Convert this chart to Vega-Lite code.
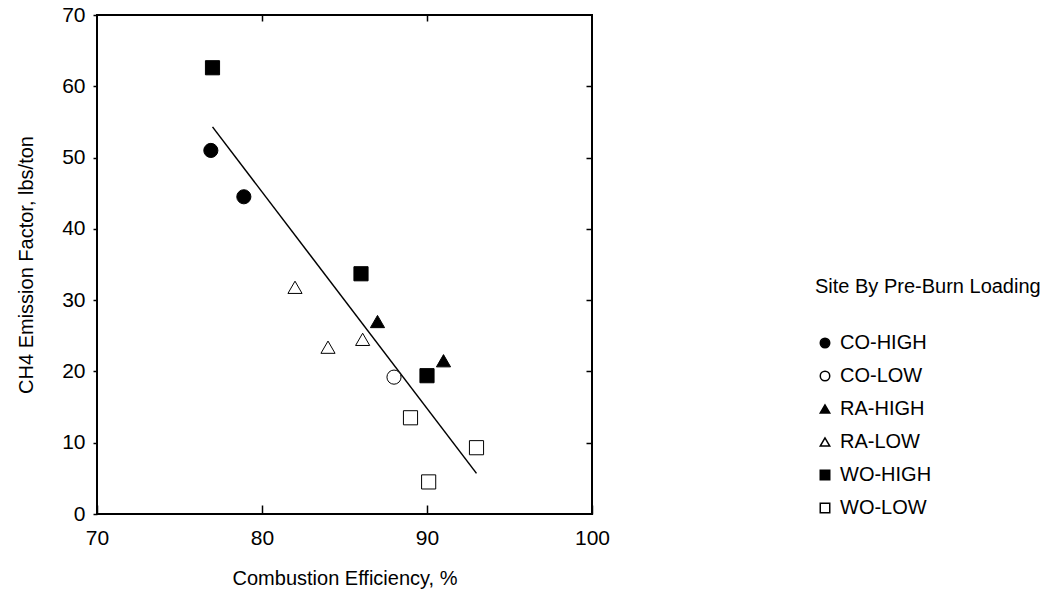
{
  "$schema": "https://vega.github.io/schema/vega-lite/v6.json",
  "autosize": {"type": "none"},
  "width": 495,
  "height": 499,
  "padding": {"left": 97, "top": 15, "right": 455, "bottom": 81},
  "background": "white",
  "config": {
    "font": "Liberation Sans",
    "view": {"stroke": "black", "strokeWidth": 2},
    "axis": {
      "grid": false,
      "domain": false,
      "labelFont": "Liberation Sans",
      "labelFontSize": 21,
      "labelColor": "black",
      "labelFlush": false,
      "titleFont": "Liberation Sans",
      "titleFontSize": 20,
      "titleFontWeight": "normal",
      "titleColor": "black",
      "tickColor": "black",
      "tickWidth": 1.5
    },
    "legend": {
      "labelFont": "Liberation Sans",
      "labelFontSize": 20,
      "labelColor": "black",
      "titleFont": "Liberation Sans",
      "titleFontSize": 20,
      "titleFontWeight": "normal",
      "titleColor": "black",
      "titleLimit": 400
    }
  },
  "datasets": {
    "pts": [
      {"ce": 77.0, "ef": 62.6, "site": "WO-HIGH"},
      {"ce": 76.9, "ef": 51.0, "site": "CO-HIGH"},
      {"ce": 78.9, "ef": 44.5, "site": "CO-HIGH"},
      {"ce": 86.0, "ef": 33.7, "site": "WO-HIGH"},
      {"ce": 82.0, "ef": 31.8, "site": "RA-LOW"},
      {"ce": 87.0, "ef": 27.0, "site": "RA-HIGH"},
      {"ce": 86.1, "ef": 24.5, "site": "RA-LOW"},
      {"ce": 84.0, "ef": 23.4, "site": "RA-LOW"},
      {"ce": 91.0, "ef": 21.5, "site": "RA-HIGH"},
      {"ce": 90.0, "ef": 19.4, "site": "WO-HIGH"},
      {"ce": 88.0, "ef": 19.2, "site": "CO-LOW"},
      {"ce": 89.0, "ef": 13.5, "site": "WO-LOW"},
      {"ce": 93.0, "ef": 9.3, "site": "WO-LOW"},
      {"ce": 90.1, "ef": 4.5, "site": "WO-LOW"}
    ],
    "fit": [
      {"ce": 77.0, "ef": 54.3},
      {"ce": 93.0, "ef": 5.7}
    ]
  },
  "layer": [
    {
      "layer": [
        {
          "data": {"name": "fit"},
          "mark": {"type": "line", "color": "black", "strokeWidth": 1.5},
          "encoding": {
            "x": {"field": "ce", "type": "quantitative", "scale": {"domain": [70, 100], "nice": false, "zero": false},
              "axis": {"orient": "bottom", "title": "Combustion Efficiency, %", "values": [70, 80, 90, 100], "tickSize": -9, "labelPadding": 22, "titlePadding": 20}},
            "y": {"field": "ef", "type": "quantitative", "scale": {"domain": [0, 70], "nice": false, "zero": false},
              "axis": {"orient": "left", "title": "CH4 Emission Factor, lbs/ton", "values": [0, 10, 20, 30, 40, 50, 60, 70], "tickSize": 4, "labelPadding": 8, "titlePadding": 25}}
          }
        },
        {
          "data": {"name": "pts"},
          "mark": {"type": "point", "filled": false, "stroke": "black", "strokeWidth": 1, "size": 200, "opacity": 1},
          "encoding": {
            "x": {"field": "ce", "type": "quantitative"},
            "y": {"field": "ef", "type": "quantitative"},
            "shape": {"field": "site", "type": "nominal",
              "scale": {"domain": ["CO-HIGH", "CO-LOW", "RA-HIGH", "RA-LOW", "WO-HIGH", "WO-LOW"],
                        "range": ["circle", "circle", "triangle-up", "triangle-up", "square", "square"]},
              "legend": {"title": "Site By Pre-Burn Loading", "orient": "none", "legendX": 718, "legendY": 262,
                         "symbolSize": 90, "rowPadding": 13, "titlePadding": 36, "labelOffset": 5,
                         "encode": {"symbols": {"update": {"stroke": {"value": "black"}, "strokeWidth": {"value": 1}}}}}},
            "fill": {"field": "site", "type": "nominal",
              "scale": {"domain": ["CO-HIGH", "CO-LOW", "RA-HIGH", "RA-LOW", "WO-HIGH", "WO-LOW"],
                        "range": ["black", "white", "black", "white", "black", "white"]},
              "legend": {"title": "Site By Pre-Burn Loading", "orient": "none", "legendX": 718, "legendY": 262,
                         "symbolSize": 90, "rowPadding": 13, "titlePadding": 36, "labelOffset": 5,
                         "encode": {"symbols": {"update": {"stroke": {"value": "black"}, "strokeWidth": {"value": 1}}}}}}
          }
        }
      ]
    },
    {
      "data": {"name": "fit"},
      "mark": {"type": "point", "opacity": 0},
      "encoding": {
        "x": {"field": "ce", "type": "quantitative", "scale": {"domain": [70, 100], "nice": false, "zero": false},
          "axis": {"orient": "top", "title": null, "labels": false, "values": [80, 90], "tickSize": -6}},
        "y": {"field": "ef", "type": "quantitative", "scale": {"domain": [0, 70], "nice": false, "zero": false},
          "axis": {"orient": "right", "title": null, "labels": false, "values": [10, 20, 30, 40, 50, 60], "tickSize": -6}}
      }
    }
  ],
  "resolve": {"scale": {"x": "independent", "y": "independent"}}
}
